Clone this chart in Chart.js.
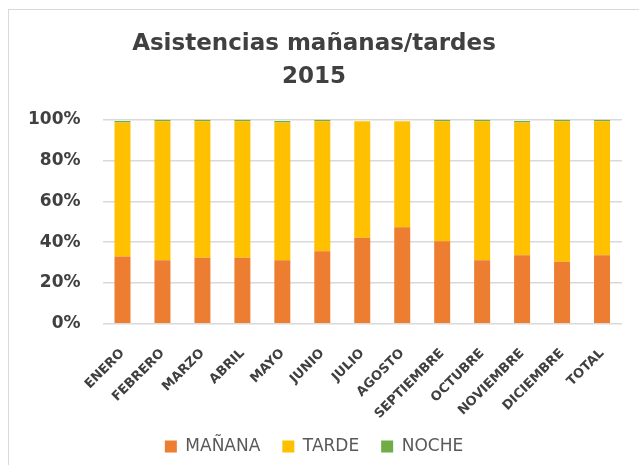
<!DOCTYPE html>
<html>
<head>
<meta charset="utf-8">
<script src="https://cdn.jsdelivr.net/npm/chart.js@4/dist/chart.umd.min.js"></script>
<style>
  body { margin: 0; background: #fff; }
  #wrap { position: relative; width: 639px; height: 465px; overflow: hidden; }
  #frame { position: absolute; left: 8px; top: 9px; width: 700px; height: 520px;
           border-left: 1.5px solid #d9d9d9; border-top: 1.5px solid #d9d9d9; }
  #myChart { position: absolute; left: 0; top: 0; }
</style>
</head>
<body>
<div id="wrap">
  <div id="frame"></div>
  <canvas id="myChart" width="639" height="465"></canvas>
</div>
<script>
"use strict";
var meses = ["ENERO","FEBRERO","MARZO","ABRIL","MAYO","JUNIO","JULIO","AGOSTO",
  "SEPTIEMBRE","OCTUBRE","NOVIEMBRE","DICIEMBRE","TOTAL"];
var manana = [33.0, 31.2, 32.4, 32.4, 31.2, 35.6, 42.2, 47.3, 40.5, 31.2, 33.6, 30.4, 33.6];
var tarde  = [65.7, 68.1, 66.9, 66.9, 67.5, 63.7, 57.1, 52.0, 58.8, 68.1, 65.1, 68.9, 65.7];
var noche  = [0.7, 0.7, 0.7, 0.7, 0.7, 0.7, 0, 0, 0.7, 0.7, 0.7, 0.7, 0.7];
var yTicks = [0, 20, 40, 60, 80, 100];

var ctx = document.getElementById("myChart");
var data = {
  labels: meses,
  datasets: [
    { label: "MAÑANA", data: manana, backgroundColor: "#ED7D31" },
    { label: "TARDE", data: tarde, backgroundColor: "#FFC000" },
    { label: "NOCHE", data: noche, backgroundColor: "#70AD47" }
  ]
};

// the x labels overlap the legend's top padding, so don't let them be clipped
var unclipLabels = {
  id: 'unclipLabels',
  afterLayout: function(chart) {
    chart.scales.x.bottom = chart.height;
  }
};

var myBarChart = new Chart(ctx, {
  type: 'bar',
  data: data,
  plugins: [unclipLabels],
  options: {
    responsive: false,
    animation: false,
    categoryPercentage: 1,
    barPercentage: 0.4,
    layout: { padding: { top: 28, left: 6, right: 17, bottom: 0 } },
    plugins: {
      title: {
        display: true,
        text: ["Asistencias mañanas/tardes", "2015"],
        color: "#404040",
        font: { family: "DejaVu Sans", size: 23, weight: "bold", lineHeight: 1.43 },
        padding: { top: 0, bottom: 26 }
      },
      legend: {
        position: 'bottom',
        labels: {
          boxWidth: 12, boxHeight: 12, padding: 22,
          color: "#595959",
          font: { family: "DejaVu Sans", size: 17 }
        }
      },
      tooltip: { enabled: false }
    },
    scales: {
      x: {
        stacked: true,
        grid: { display: false },
        border: { display: false },
        afterFit: function(axis) { axis.height -= 20; },
        ticks: {
          maxRotation: 45, minRotation: 45, padding: 14,
          color: "#404040",
          font: { family: "DejaVu Sans", size: 13, weight: "bold" }
        }
      },
      y: {
        stacked: true,
        min: 0, max: 100,
        afterBuildTicks: function(axis) {
          axis.ticks = yTicks.map(function(v){ return { value: v }; });
        },
        grid: { color: "#d9d9d9", lineWidth: 1.5, drawTicks: false },
        border: { display: false },
        ticks: {
          padding: 22,
          color: "#404040",
          font: { family: "DejaVu Sans", size: 17, weight: "bold" },
          callback: function(v) { return v + "%"; }
        }
      }
    }
  }
});
</script>
</body>
</html>
